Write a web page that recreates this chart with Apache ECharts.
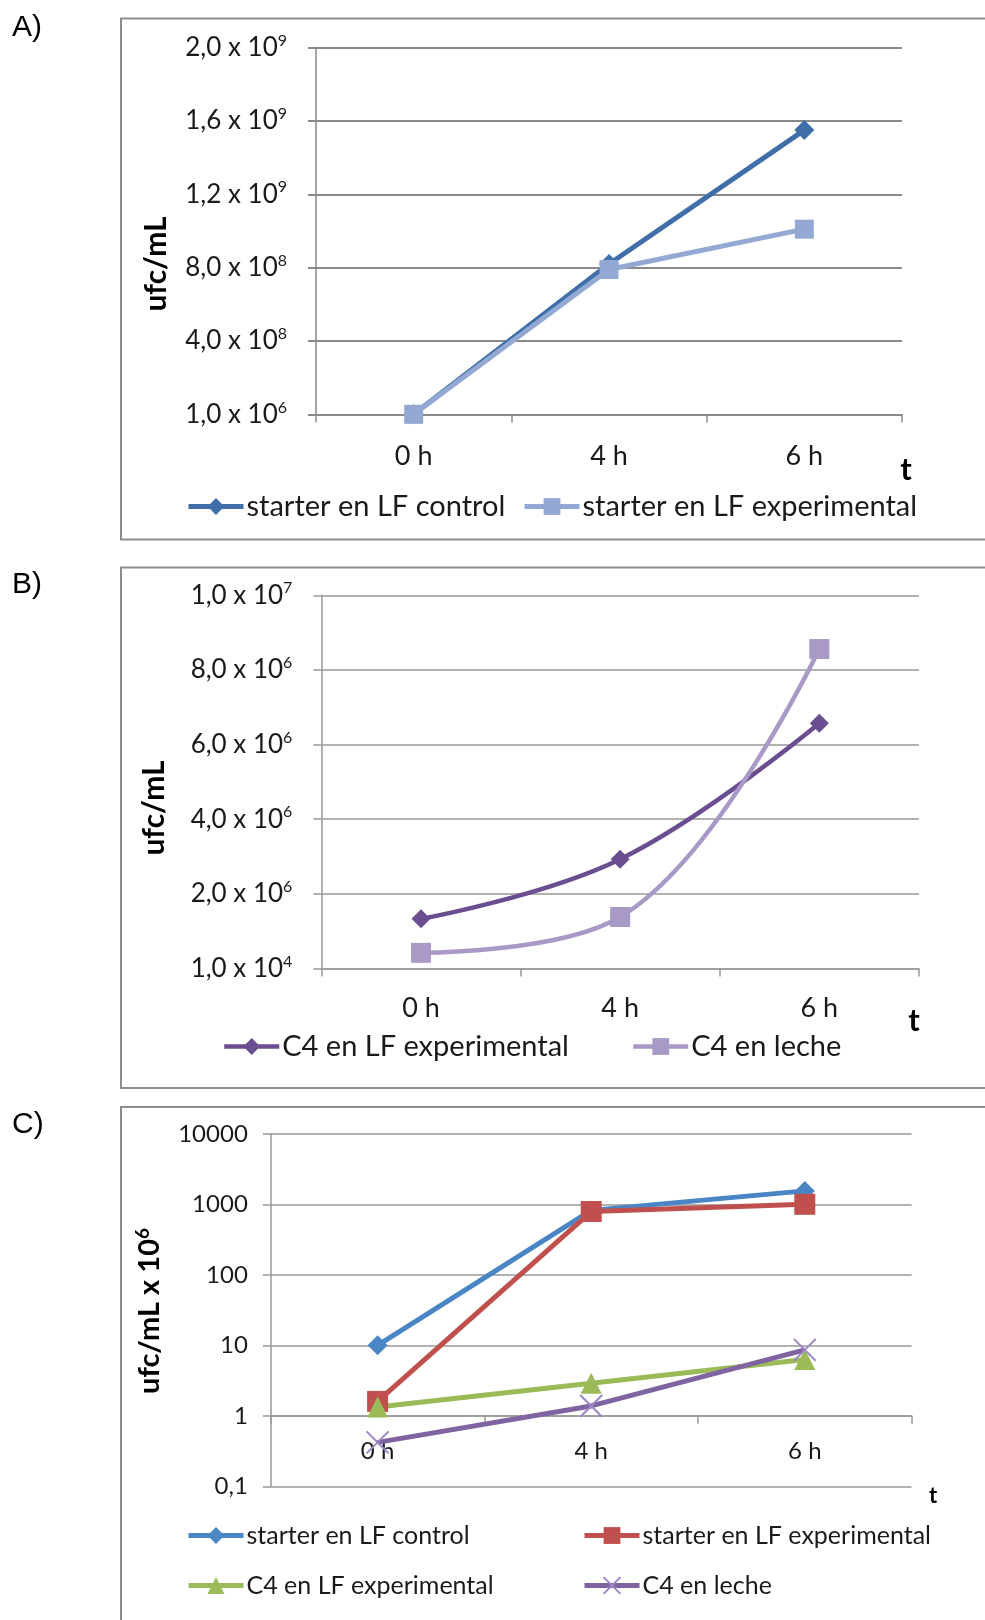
<!DOCTYPE html>
<html>
<head>
<meta charset="utf-8">
<script src="https://cdn.jsdelivr.net/npm/echarts@6/dist/echarts.min.js"></script>
<style>
  html, body { margin: 0; padding: 0; background: #fff; }
  body { width: 985px; height: 1620px; position: relative; overflow: hidden; }
  .panel { position: absolute; left: 0; width: 985px; }
</style>
</head>
<body>
<div id="pa" class="panel" style="top:0;height:550px"></div>
<div id="pb" class="panel" style="top:550px;height:540px"></div>
<div id="pc" class="panel" style="top:1090px;height:530px"></div>
<script>
// ---------------- data ----------------
const categories = ['0 h', '4 h', '6 h'];

// Panel A (ufc/mL)
const aControl = [1.0e6, 8.2e8, 1.55e9];
const aExperimental = [1.0e6, 7.9e8, 1.01e9];
const aTickMant = ['1,0', '4,0', '8,0', '1,2', '1,6', '2,0'];
const aTickExp = ['6', '8', '8', '9', '9', '9'];

// Panel B (ufc/mL)
const bLF = [1.33e6, 2.93e6, 6.57e6];
const bLeche = [0.42e6, 1.38e6, 8.56e6];
const bTickMant = ['1,0', '2,0', '4,0', '6,0', '8,0', '1,0'];
const bTickExp = ['4', '6', '6', '6', '6', '7'];

// Panel C (ufc/mL x 10^6, log scale)
const cControl = [10, 820, 1550];
const cExperimental = [1.6, 790, 1000];
const cC4LF = [1.33, 2.9, 6.3];
const cLeche = [0.42, 1.38, 8.6];
const cTickLabels = ['0,1', '1', '10', '100', '1000', '10000'];

const names = {
  control: 'starter en LF control',
  experimental: 'starter en LF experimental',
  c4lf: 'C4 en LF experimental',
  leche: 'C4 en leche'
};

// ---------------- common styles ----------------
const FONT = 'Lato';
const TXT = '#1a1a1a';
const X_SYMBOL = 'path://M0,0 L10,10 M10,0 L0,10';

function supRich(size, supSize, pad) {
  return {
    m: { fontSize: size, fontFamily: FONT, color: TXT },
    e: { fontSize: supSize, fontFamily: FONT, color: TXT, padding: [0, 0, pad, 0] }
  };
}

function frame(letter, boxTop, boxH, letterY) {
  return [
    { type: 'rect', shape: { x: 121, y: boxTop, width: 900, height: boxH },
      style: { fill: 'none', stroke: '#8c8c8c', lineWidth: 2 }, silent: true },
    { type: 'text', x: 12, y: letterY,
      style: { text: letter, font: '30px "Liberation Sans", Arial', fill: '#000', textVerticalAlign: 'middle' } }
  ];
}

function singleLegend(name, left, top, size, iconW, lw) {
  return {
    data: [name], left: left, top: top, orient: 'horizontal', padding: 0,
    itemWidth: iconW, itemHeight: 21, itemGap: 0, selectedMode: false,
    lineStyle: { width: lw },
    textStyle: { fontFamily: FONT, fontSize: size, color: TXT, padding: [0, 0, 0, -2] }
  };
}

// ---------------- Panel A ----------------
const chartA = echarts.init(document.getElementById('pa'));
chartA.setOption({
  animation: false,
  graphic: frame('A)', 18.6, 521, 28).concat([
    { type: 'text', x: 156, y: 264, rotation: Math.PI / 2,
      style: { text: 'ufc/mL', font: 'bold 30px Lato', fill: '#000', textAlign: 'center', textVerticalAlign: 'middle' } },
    { type: 'text', x: 906, y: 470,
      style: { text: 't', font: 'bold 31px Lato', fill: '#000', textAlign: 'center', textVerticalAlign: 'middle' } }
  ]),
  grid: { left: 316, top: 47.5, width: 586, height: 367 },
  xAxis: {
    type: 'category', data: categories, boundaryGap: true,
    axisLine: { lineStyle: { color: '#8a8a8a', width: 2 } },
    axisTick: { show: true, length: 8, lineStyle: { color: '#8a8a8a', width: 1.5 } },
    axisLabel: { fontFamily: FONT, fontSize: 27, color: TXT, margin: 28 }
  },
  yAxis: {
    type: 'value', min: 0, max: 2e9, interval: 4e8,
    axisLine: { show: true, lineStyle: { color: '#8a8a8a', width: 1.5 } },
    axisTick: { show: true, length: 8, lineStyle: { color: '#8a8a8a', width: 2 } },
    splitLine: { show: true, lineStyle: { color: '#8a8a8a', width: 2 } },
    axisLabel: {
      margin: 29,
      formatter: function (v) {
        const i = Math.round(v / 4e8);
        return '{m|' + aTickMant[i] + ' x 10}{e|' + aTickExp[i] + '}';
      },
      rich: supRich(26, 16, 14)
    }
  },
  legend: [
    singleLegend(names.control, 186, 492, 29, 55, 5),
    singleLegend(names.experimental, 522, 492, 29, 55, 5)
  ],
  series: [
    { name: names.control, type: 'line', data: aControl, color: '#3F6EA8',
      symbol: 'diamond', symbolSize: 20, lineStyle: { width: 5, color: '#3F6EA8' },
      itemStyle: { color: '#3F6EA8' } },
    { name: names.experimental, type: 'line', data: aExperimental, color: '#93A9D3',
      symbol: 'rect', symbolSize: 19, lineStyle: { width: 5, color: '#93A9D3' },
      itemStyle: { color: '#93A9D3' } }
  ]
});

// ---------------- Panel B ----------------
const chartB = echarts.init(document.getElementById('pb'));
chartB.setOption({
  animation: false,
  graphic: frame('B)', 17.5, 520.5, 35).concat([
    { type: 'text', x: 154, y: 258, rotation: Math.PI / 2,
      style: { text: 'ufc/mL', font: 'bold 30px Lato', fill: '#000', textAlign: 'center', textVerticalAlign: 'middle' } },
    { type: 'text', x: 914, y: 471,
      style: { text: 't', font: 'bold 31px Lato', fill: '#000', textAlign: 'center', textVerticalAlign: 'middle' } }
  ]),
  grid: { left: 321.4, top: 45.3, width: 597.5, height: 373.2 },
  xAxis: {
    type: 'category', data: categories, boundaryGap: true,
    axisLine: { lineStyle: { color: '#999', width: 1.5 } },
    axisTick: { show: true, length: 8, lineStyle: { color: '#999', width: 1.5 } },
    axisLabel: { fontFamily: FONT, fontSize: 27, color: TXT, margin: 26 }
  },
  yAxis: {
    type: 'value', min: 0, max: 1e7, interval: 2e6,
    axisLine: { show: true, lineStyle: { color: '#999', width: 1.5 } },
    axisTick: { show: true, length: 8, lineStyle: { color: '#999', width: 1.5 } },
    splitLine: { show: true, lineStyle: { color: '#999', width: 1.5 } },
    axisLabel: {
      margin: 29,
      formatter: function (v) {
        const i = Math.round(v / 2e6);
        return '{m|' + bTickMant[i] + ' x 10}{e|' + bTickExp[i] + '}';
      },
      rich: supRich(26, 16, 14)
    }
  },
  legend: [
    singleLegend(names.c4lf, 222, 482, 29, 55, 4.5),
    singleLegend(names.leche, 631, 482, 29, 55, 4.5)
  ],
  series: [
    { name: names.c4lf, type: 'line', data: bLF, smooth: 0.4, color: '#6A4E90',
      symbol: 'diamond', symbolSize: 19, lineStyle: { width: 4.5, color: '#6A4E90' },
      itemStyle: { color: '#6A4E90' } },
    { name: names.leche, type: 'line', data: bLeche, smooth: 0.4, color: '#A899C6',
      symbol: 'rect', symbolSize: 20, lineStyle: { width: 4.5, color: '#A899C6' },
      itemStyle: { color: '#A899C6' } }
  ]
});

// ---------------- Panel C ----------------
const chartC = echarts.init(document.getElementById('pc'));
const cGridH = 352.5;
chartC.setOption({
  animation: false,
  graphic: frame('C)', 17, 700, 34.5).concat([
    { type: 'text', x: 150, y: 221, rotation: Math.PI / 2,
      style: { text: '{a|ufc/mL x 10}{s|6}', fill: '#000', textAlign: 'center', textVerticalAlign: 'middle',
        rich: { a: { font: 'bold 29px Lato', fill: '#000' }, s: { font: 'bold 19px Lato', fill: '#000', padding: [0, 0, 14, 0] } } } },
    { type: 'text', x: 933, y: 406,
      style: { text: 't', font: 'bold 22px Lato', fill: '#000', textAlign: 'center', textVerticalAlign: 'middle' } }
  ]),
  grid: { left: 270.8, top: 43.8, width: 640.8, height: cGridH },
  xAxis: {
    type: 'category', data: categories, boundaryGap: true, offset: -cGridH / 5,
    axisLine: { lineStyle: { color: '#999', width: 1.5 } },
    axisTick: { show: true, length: 8, lineStyle: { color: '#999', width: 1.5 } },
    axisLabel: { fontFamily: FONT, fontSize: 24, color: TXT, margin: 23 }
  },
  yAxis: {
    type: 'log', logBase: 10, min: 0.1, max: 10000,
    axisLine: { show: true, lineStyle: { color: '#999', width: 1.5 } },
    axisTick: { show: true, length: 8, lineStyle: { color: '#999', width: 1.5 } },
    splitLine: { show: true, lineStyle: { color: '#999', width: 1.5 } },
    minorTick: { show: false }, minorSplitLine: { show: false },
    axisLabel: {
      margin: 23, fontFamily: FONT, fontSize: 24, color: TXT,
      formatter: function (v) {
        const i = Math.round(Math.log10(v)) + 1;
        return cTickLabels[i];
      }
    }
  },
  legend: [
    singleLegend(names.control, 186, 433, 25, 55, 5),
    singleLegend(names.experimental, 582, 433, 25, 55, 5),
    singleLegend(names.c4lf, 186, 483, 25, 55, 5),
    singleLegend(names.leche, 582, 483, 25, 55, 5)
  ],
  series: [
    { name: names.control, type: 'line', data: cControl, color: '#4A85C6',
      symbol: 'diamond', symbolSize: 20, lineStyle: { width: 5, color: '#4A85C6' },
      itemStyle: { color: '#4A85C6' } },
    { name: names.experimental, type: 'line', data: cExperimental, color: '#C0504D',
      symbol: 'rect', symbolSize: 21, lineStyle: { width: 5, color: '#C0504D' },
      itemStyle: { color: '#C0504D' } },
    { name: names.c4lf, type: 'line', data: cC4LF, color: '#9BBB59',
      symbol: 'triangle', symbolSize: 21, lineStyle: { width: 5, color: '#9BBB59' },
      itemStyle: { color: '#9BBB59' } },
    { name: names.leche, type: 'line', data: cLeche, color: '#8064A2',
      symbol: X_SYMBOL, symbolSize: 22, lineStyle: { width: 5, color: '#8064A2' },
      itemStyle: { color: '#8064A2', borderColor: '#9C86C4', borderWidth: 2 } }
  ]
});
</script>
</body>
</html>
